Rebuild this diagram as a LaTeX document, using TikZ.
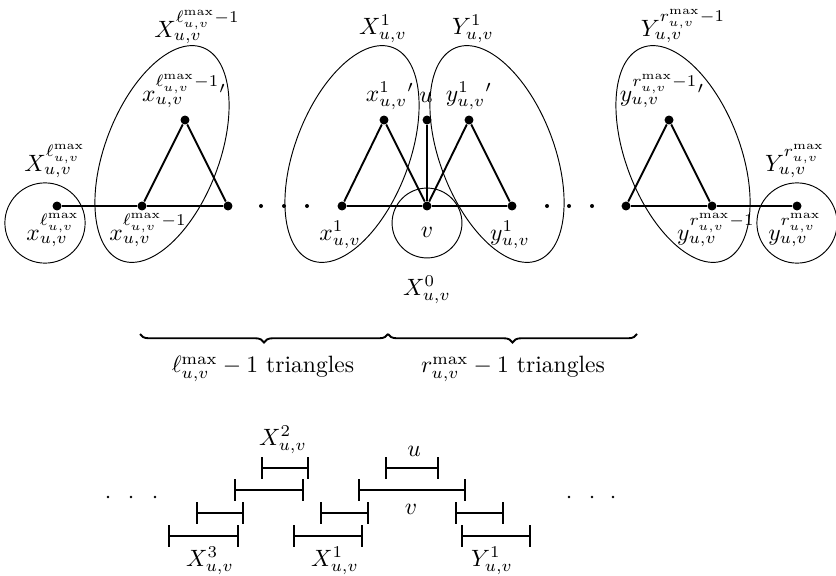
\documentclass[tikz,border=0pt]{standalone}
\usepackage{amsmath}
\usepackage{amssymb}
\usepackage{tikz}
\usetikzlibrary{arrows.meta,decorations.pathreplacing}

\begin{document}
\begin{tikzpicture}[
  x=0.4237pt,y=-0.4237pt,
  vtx/.style={circle,fill,inner sep=0pt,minimum size=3.8pt},
  edge/.style={line width=0.8pt},
  grp/.style={line width=0.4pt},
  ivl/.style={line width=0.8pt,{Bar[width=9.3pt]}-{Bar[width=9.3pt]}},
  brc/.style={line width=0.8pt,decorate,
              decoration={brace,mirror,amplitude=3.6pt}},
  lbl/.style={inner sep=0pt}
]
\useasboundingbox (0,0) rectangle (836,575);
% ---- the graph ----
\node[vtx] (xm)  at (57,206)  {};
\node[vtx] (xl)  at (142,206) {};
\node[vtx] (xlp) at (185,120) {};
\node[vtx] (xr)  at (228,206) {};
\node[vtx] (x1)  at (342,206) {};
\node[vtx] (x1p) at (384,120) {};
\node[vtx] (v)   at (427,206) {};
\node[vtx] (u)   at (427,120) {};
\node[vtx] (y1p) at (469,120) {};
\node[vtx] (y1)  at (512,206) {};
\node[vtx] (yl)  at (626,206) {};
\node[vtx] (ylp) at (669,120) {};
\node[vtx] (yr)  at (712,206) {};
\node[vtx] (ym)  at (797,206) {};
\draw[edge] (xm) -- (xl) -- (xr) -- (xlp) -- (xl);
\draw[edge] (x1) -- (v) -- (x1p) -- (x1);
\draw[edge] (v) -- (y1) -- (y1p) -- (v) -- (u);
\draw[edge] (yl) -- (yr) -- (ym);
\draw[edge] (yl) -- (ylp) -- (yr);
\foreach \p in {261,284,307,547,569,592}
  \fill (\p,206) circle (0.85pt);

% groups
\draw[grp] (45,223) circle (17pt);
\draw[grp] (427,223) circle (14.8pt);
\draw[grp] (797,223) circle (17pt);
\draw[grp,rotate around={-21:(162,154)}] (162,154) ellipse (57 and 114);
\draw[grp,rotate around={-21:(352,154)}] (352,154) ellipse (57 and 114);
\draw[grp,rotate around={21:(497,154)}] (497,154) ellipse (57 and 114);
\draw[grp,rotate around={21:(683,154)}] (683,154) ellipse (57 and 114);

% labels
\node[lbl] (lXlm) at (197,27)  {$X_{u,v}^{\ell_{u,v}^{\max}-1}$};
\node[lbl] (lxlp) at (184,91)  {$x_{u,v}^{\ell_{u,v}^{\max}-1}{}'$};
\node[lbl] (lXm)  at (55,161)  {$X_{u,v}^{\ell_{u,v}^{\max}}$};
\node[lbl] (lxm)  at (53,230)  {$x_{u,v}^{\ell_{u,v}^{\max}}$};
\node[lbl] (lxl)  at (148,230) {$x_{u,v}^{\ell_{u,v}^{\max}-1}$};
\node[lbl] (lX1)  at (383,29)  {$X_{u,v}^{1}$};
\node[lbl] (lY1)  at (473,29)  {$Y_{u,v}^{1}$};
\node[lbl] (lx1p) at (390,96)  {$x_{u,v}^{1}{}'$};
\node[lbl] (lu)   at (426,97)  {$u$};
\node[lbl] (ly1p) at (469,96)  {$y_{u,v}^{1}{}'$};
\node[lbl] (lx1)  at (340,235) {$x_{u,v}^{1}$};
\node[lbl] (lv)   at (427,232) {$v$};
\node[lbl] (ly1)  at (510,235) {$y_{u,v}^{1}$};
\node[lbl] (lX0)  at (427,290) {$X_{u,v}^{0}$};
\node[lbl] (lYrm) at (683,26)  {$Y_{u,v}^{r_{u,v}^{\max}-1}$};
\node[lbl] (lylp) at (662,91)  {$y_{u,v}^{r_{u,v}^{\max}-1}{}'$};
\node[lbl] (lYm)  at (795,161) {$Y_{u,v}^{r_{u,v}^{\max}}$};
\node[lbl] (lyl)  at (716,230) {$y_{u,v}^{r_{u,v}^{\max}-1}$};
\node[lbl] (lym)  at (795,230) {$y_{u,v}^{r_{u,v}^{\max}}$};

% ---- braces ----
\coordinate (bl) at (140,334);
\coordinate (bm) at (388,334);
\coordinate (br) at (637,334);
\draw[brc] (bl) -- (bm);
\draw[brc] (bm) -- (br);
\node (tl) at (263,369) {$\ell_{u,v}^{\max}-1$ triangles};
\node (tr) at (513,369) {$r_{u,v}^{\max}-1$ triangles};

% ---- the intervals ----
\coordinate (a1) at (261,468); \coordinate (a2) at (309,468);
\coordinate (b1) at (385,468); \coordinate (b2) at (439,468);
\coordinate (c1) at (234,490); \coordinate (c2) at (304,490);
\coordinate (d1) at (358,490); \coordinate (d2) at (466,490);
\coordinate (e1) at (196,513); \coordinate (e2) at (244,513);
\coordinate (f1) at (320,513); \coordinate (f2) at (369,513);
\coordinate (g1) at (455,513); \coordinate (g2) at (504,513);
\coordinate (h1) at (168,536); \coordinate (h2) at (239,536);
\coordinate (i1) at (293,536); \coordinate (i2) at (363,536);
\coordinate (j1) at (461,536); \coordinate (j2) at (531,536);
\foreach \s/\t in {a1/a2,b1/b2,c1/c2,d1/d2,e1/e2,f1/f2,g1/g2,h1/h2,i1/i2,j1/j2}
  \draw[ivl] (\s) -- (\t);
\foreach \p in {108,131,155,569,592,613}
  \fill (\p,497) circle (0.6pt);
\node[lbl] (iX2) at (283,440) {$X_{u,v}^{2}$};
\node[lbl] (iu)  at (414,451) {$u$};
\node[lbl] (iv)  at (411,509) {$v$};
\node[lbl] (iX3) at (210,561) {$X_{u,v}^{3}$};
\node[lbl] (iX1) at (335,561) {$X_{u,v}^{1}$};
\node[lbl] (iY1) at (492,561) {$Y_{u,v}^{1}$};
\end{tikzpicture}
\end{document}
